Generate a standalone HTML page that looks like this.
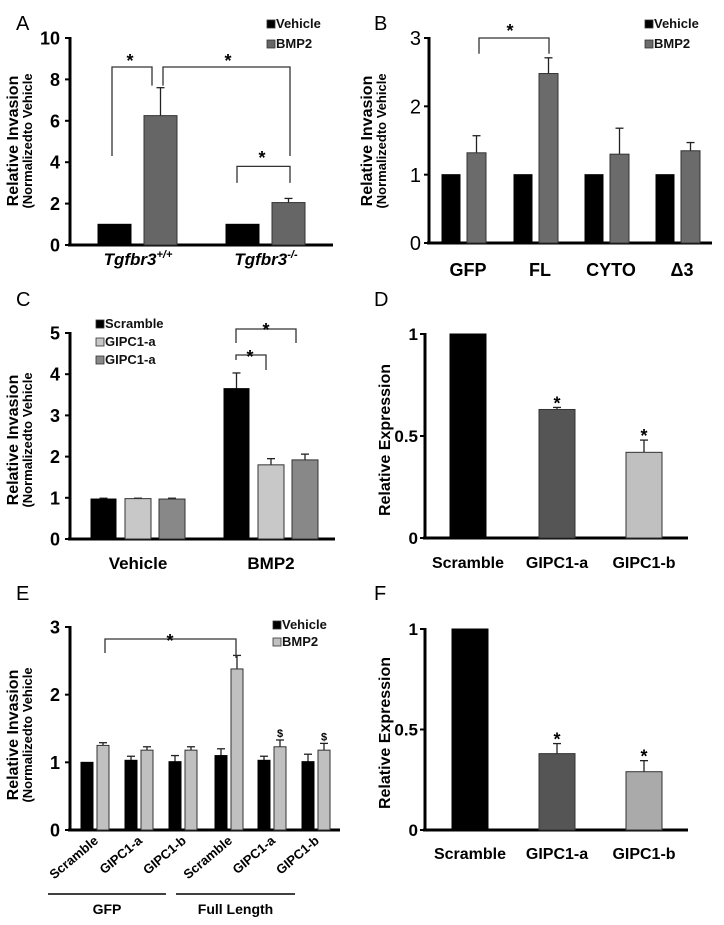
<!DOCTYPE html>
<html><head><meta charset="utf-8"><style>
html,body{margin:0;padding:0;background:#fff;}
svg{display:block;font-family:"Liberation Sans",Arial,sans-serif;}
</style></head><body>
<svg id="fig" width="724" height="925" viewBox="0 0 724 925" xmlns="http://www.w3.org/2000/svg"></svg>
<script>
// Panel A data
const aGroups = ["Tgfbr3+/+", "Tgfbr3-/-"];
const aVehicle = [1, 1];
const aBmp2 = [6.25, 2.05];
const aBmp2Err = [1.35, 0.2];
const aTicks = [0, 2, 4, 6, 8, 10];
// Panel B data
const bGroups = ["GFP", "FL", "CYTO", "Δ3"];
const bVehicle = [1, 1, 1, 1];
const bBmp2 = [1.32, 2.48, 1.3, 1.35];
const bBmp2Err = [0.25, 0.23, 0.38, 0.12];
const bTicks = [0, 1, 2, 3];
// Panel C data
const cGroups = ["Vehicle", "BMP2"];
const cScramble = [0.97, 3.65];
const cScrambleErr = [0.02, 0.38];
const cGipcA = [0.98, 1.8];
const cGipcAErr = [0.01, 0.15];
const cGipcB = [0.97, 1.92];
const cGipcBErr = [0.02, 0.14];
const cTicks = [0, 1, 2, 3, 4, 5];
// Panel D data
const dCats = ["Scramble", "GIPC1-a", "GIPC1-b"];
const dVals = [1, 0.63, 0.42];
const dErr = [0, 0.01, 0.06];
const dTicks = [0, 0.5, 1];
// Panel E data
const eCats = ["Scramble", "GIPC1-a", "GIPC1-b", "Scramble", "GIPC1-a", "GIPC1-b"];
const eVehicle = [1.0, 1.03, 1.01, 1.1, 1.03, 1.01];
const eVehicleErr = [0, 0.06, 0.09, 0.1, 0.06, 0.11];
const eBmp2 = [1.25, 1.18, 1.18, 2.38, 1.23, 1.18];
const eBmp2Err = [0.04, 0.05, 0.05, 0.2, 0.1, 0.1];
const eTicks = [0, 1, 2, 3];
// Panel F data
const fCats = ["Scramble", "GIPC1-a", "GIPC1-b"];
const fVals = [1, 0.38, 0.29];
const fErr = [0, 0.05, 0.055];
const fTicks = [0, 0.5, 1];

const NS = "http://www.w3.org/2000/svg";
const svg = document.getElementById('fig');
function mk(tag, attrs, parent, text) {
  const e = document.createElementNS(NS, tag);
  for (const k in attrs) e.setAttribute(k, attrs[k]);
  if (text !== undefined) e.textContent = text;
  (parent || svg).appendChild(e);
  return e;
}
function scale(y0, yTop, max) { return v => y0 - v * (y0 - yTop) / max; }

function axes(g, x0, x1, y, ticks, fmt, fs, tickX, weight) {
  for (const t of ticks) {
    const yy = y(t);
    const tk = mk('line', {x1: x0 - 5, x2: x0, y1: yy, y2: yy, stroke: '#000', 'stroke-width': 2}, g);
    
    
    const tl = mk('text', {x: tickX, y: yy + fs * 0.36, 'text-anchor': 'end', 'font-size': fs, 'font-weight': weight || 'bold'}, g, fmt(t));
    
    
  }
  const ya = mk('line', {x1: x0, x2: x0, y1: y(ticks[ticks.length - 1]) - 1, y2: y(0) + 1.5, stroke: '#000', 'stroke-width': 3}, g);
  
  
  const xa = mk('line', {x1: x0 - 2, x2: x1, y1: y(0), y2: y(0), stroke: '#000', 'stroke-width': 3}, g);
  
  
}
function bar(g, x, w, y, v, err, fill, name) {
  const gb = mk('g', {}, g);
  
  
  if (err > 0) {
    const cx = x + w / 2;
    mk('line', {x1: cx, x2: cx, y1: y(v), y2: y(v + err), stroke: '#222', 'stroke-width': 1.3}, gb);
    mk('line', {x1: cx - 4, x2: cx + 4, y1: y(v + err), y2: y(v + err), stroke: '#222', 'stroke-width': 1.3}, gb);
  }
  mk('rect', {x: x, y: y(v), width: w, height: y(0) - y(v), fill: fill, stroke: fill === '#000' ? '#000' : '#333', 'stroke-width': 1}, gb);
}
function ytitle(g, cx, cy, lines, sizes) {
  const t = mk('text', {transform: `translate(${cx},${cy}) rotate(-90)`, 'text-anchor': 'middle', 'font-weight': 'bold'}, g);
  
  
  lines.forEach((l, i) => mk('tspan', {x: 0, dy: i === 0 ? 0 : sizes[i] + 1, 'font-size': sizes[i]}, t, l));
}
function label(g, x, y, s) {
  const t = mk('text', {x: x, y: y, 'font-size': 20}, g, s);
  
  
}
function bracket(g, xl, yl, xr, yr, yTop, sx, sy) {
  const p = mk('path', {d: `M${xl},${yl} V${yTop} H${xr} V${yr}`, fill: 'none', stroke: '#333', 'stroke-width': 1.3}, g);
  
  
  const s = mk('text', {x: sx, y: sy, 'text-anchor': 'middle', 'font-size': 18, 'font-weight': 'bold'}, g, '*');
  
  
}
function legendEntry(g, x, y, fill, text, fs) {
  const ge = mk('g', {}, g);
  
  
  mk('rect', {x: x, y: y - 8, width: 8, height: 8, fill: fill, stroke: '#333', 'stroke-width': 0.8}, ge);
  mk('text', {x: x + 9, y: y, 'font-size': fs, 'font-weight': 'bold', fill: '#111'}, ge, text);
}
function catLabel(g, x, y, s, fs, italic) {
  const t = mk('text', {x: x, y: y, 'text-anchor': 'middle', 'font-size': fs, 'font-weight': 'bold', 'font-style': italic ? 'italic' : 'normal'}, g, s);
  
  
  return t;
}

// ---------- Panel A ----------
(function () {
  const g = mk('g', {});  
  const y = scale(245, 38, 10);
  label(g, 16, 30, 'A');
  ytitle(g, 18, 141, ['Relative Invasion', '(Normalizedto Vehicle'], [16, 13]);
  const centers = [138, 266];
  axes(g, 70, 333, y, aTicks, t => String(t), 18, 60);
  centers.forEach((c, i) => {
    bar(g, c - 40, 33, y, aVehicle[i], 0, '#000', 'bar-vehicle');
    bar(g, c + 6, 33, y, aBmp2[i], aBmp2Err[i], '#666', 'bar-bmp2');
    const t = catLabel(g, c, 265, '', 17, true);
    const base = aGroups[i].slice(0, 6), sup = aGroups[i].slice(6);
    mk('tspan', {}, t, base);
    mk('tspan', {'font-size': 11, dy: -7}, t, sup);
  });
  bracket(g, 112, y(4.3), 152, y(7.7), y(8.6), 130, 67);
  bracket(g, 163, y(7.7), 290, y(4.3), y(8.6), 228, 67);
  bracket(g, 237, y(3), 290, y(3), y(3.8), 262, 164);
  legendEntry(g, 267, 28, '#000', 'Vehicle', 13);
  legendEntry(g, 267, 48, '#666', 'BMP2', 13);
})();

// ---------- Panel B ----------
(function () {
  const g = mk('g', {});  
  const y = scale(243, 38, 3);
  label(g, 374, 30, 'B');
  ytitle(g, 372, 141, ['Relative Invasion', '(Normalizedto Vehicle'], [16, 13]);
  axes(g, 429, 712, y, bTicks, t => String(t), 20, 421, 'normal');
  const centers = [464, 536, 607, 678];
  centers.forEach((c, i) => {
    bar(g, c - 22, 18, y, bVehicle[i], 0, '#000', 'bar-vehicle');
    bar(g, c + 3, 19, y, bBmp2[i], bBmp2Err[i], '#6b6b6b', 'bar-bmp2');
    catLabel(g, c + 4, 276, bGroups[i], 18, false);
  });
  bracket(g, 479, y(2.77), 549, y(2.77), y(3), 510, 37);
  legendEntry(g, 645, 28, '#000', 'Vehicle', 13);
  legendEntry(g, 645, 48, '#6b6b6b', 'BMP2', 13);
})();

// ---------- Panel C ----------
(function () {
  const g = mk('g', {});  
  const y = scale(539, 333, 5);
  label(g, 16, 306, 'C');
  ytitle(g, 18, 440, ['Relative Invasion', '(Normalizedto Vehicle'], [16, 13]);
  axes(g, 70, 335, y, cTicks, t => String(t), 18, 60);
  const centers = [138, 271];
  centers.forEach((c, i) => {
    bar(g, c - 47, 25, y, cScramble[i], cScrambleErr[i], '#000', 'bar-scramble');
    bar(g, c - 13, 26, y, cGipcA[i], cGipcAErr[i], '#c8c8c8', 'bar-gipc1-a');
    bar(g, c + 21, 26, y, cGipcB[i], cGipcBErr[i], '#888', 'bar-gipc1-b');
    catLabel(g, c, 569, cGroups[i], 17, false);
  });
  bracket(g, 236, 360, 266, 370, 355, 250, 363);
  bracket(g, 236, 343, 296, 343, 329, 266, 336);
  legendEntry(g, 96, 328, '#000', 'Scramble', 13);
  legendEntry(g, 96, 346, '#c8c8c8', 'GIPC1-a', 13);
  legendEntry(g, 96, 364, '#888', 'GIPC1-a', 13);
})();

// ---------- Panel D ----------
(function () {
  const g = mk('g', {});  
  const y = scale(538, 334, 1);
  label(g, 374, 306, 'D');
  ytitle(g, 390, 440, ['Relative Expression'], [16]);
  axes(g, 425, 688, y, dTicks, t => String(t), 17, 418);
  const xs = [450, 539, 626];
  const fills = ['#000', '#555', '#c0c0c0'];
  xs.forEach((x, i) => {
    bar(g, x, 36, y, dVals[i], dErr[i], fills[i], 'bar-' + dCats[i].toLowerCase());
    catLabel(g, x + 18, 568, dCats[i], 16, false);
    if (i > 0) { const s = mk('text', {x: x + 18, y: y(dVals[i] + dErr[i]) + 2, 'text-anchor': 'middle', 'font-size': 18, 'font-weight': 'bold'}, g, '*');   }
  });
})();

// ---------- Panel E ----------
(function () {
  const g = mk('g', {});  
  const y = scale(830, 627, 3);
  label(g, 16, 600, 'E');
  ytitle(g, 18, 735, ['Relative Invasion', '(Normalizedto Vehicle'], [16, 13]);
  axes(g, 70, 340, y, eTicks, t => String(t), 18, 60);
  const centers = [95, 139, 183, 229, 272, 316];
  centers.forEach((c, i) => {
    bar(g, c - 14, 12, y, eVehicle[i], eVehicleErr[i], '#000', 'bar-vehicle');
    bar(g, c + 2, 12, y, eBmp2[i], eBmp2Err[i], '#c0c0c0', 'bar-bmp2');
    const t = mk('text', {transform: `translate(${c + 4},${842}) rotate(-40)`, 'text-anchor': 'end', 'font-size': 13, 'font-weight': 'bold'}, g, eCats[i]);
    
    
    if (i >= 4) { const s = mk('text', {x: c + 8, y: y(eBmp2[i] + eBmp2Err[i]) - 3, 'text-anchor': 'middle', 'font-size': 11, 'font-weight': 'bold'}, g, '$');   }
  });
  bracket(g, 105, 653, 236, 658, 639, 170, 647);
  [[48, 166, 'GFP'], [176, 295, 'Full Length']].forEach(([a, b, s]) => {
    const l = mk('line', {x1: a, x2: b, y1: 894, y2: 894, stroke: '#000', 'stroke-width': 1.5}, g);
    
    
    const t = mk('text', {x: (a + b) / 2, y: 914, 'text-anchor': 'middle', 'font-size': 14, 'font-weight': 'bold'}, g, s);
    
    
  });
  legendEntry(g, 273, 629, '#000', 'Vehicle', 13);
  legendEntry(g, 273, 646, '#c0c0c0', 'BMP2', 13);
})();

// ---------- Panel F ----------
(function () {
  const g = mk('g', {});  
  const y = scale(830, 629, 1);
  label(g, 374, 600, 'F');
  ytitle(g, 390, 733, ['Relative Expression'], [16]);
  axes(g, 425, 688, y, fTicks, t => String(t), 17, 418);
  const xs = [452, 539, 626];
  const fills = ['#000', '#555', '#aaa'];
  xs.forEach((x, i) => {
    bar(g, x, 36, y, fVals[i], fErr[i], fills[i], 'bar-' + fCats[i].toLowerCase());
    catLabel(g, x + 18, 859, fCats[i], 16, false);
    if (i > 0) { const s = mk('text', {x: x + 18, y: y(fVals[i] + fErr[i]) + 2, 'text-anchor': 'middle', 'font-size': 18, 'font-weight': 'bold'}, g, '*');   }
  });
})();
</script>
</body></html>
